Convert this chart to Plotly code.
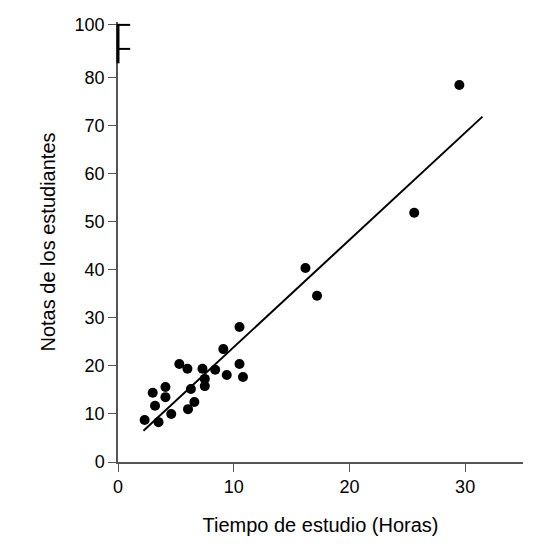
import numpy as np
import plotly.graph_objects as go

# hours studied vs student grades
horas = [2.3, 3.0, 3.2, 3.5, 4.1, 4.1, 4.6, 5.3, 6.0, 6.05, 6.3, 6.6, 7.3, 7.5, 7.5,
         8.4, 9.1, 9.4, 10.5, 10.5, 10.8, 16.2, 17.2, 25.6, 29.5]
notas = [8.75, 14.4, 11.7, 8.3, 15.6, 13.5, 10.0, 20.4, 19.4, 11.0, 15.2, 12.5, 19.4, 17.3, 15.8,
         19.2, 23.5, 18.1, 28.1, 20.4, 17.7, 40.4, 34.6, 51.9, 78.5]
linea_x = [2.2, 31.5]
linea_y = [6.5, 71.9]

yticks = [0, 10, 20, 30, 40, 50, 60, 70, 80, 91]
ylabels = ['0', '10', '20', '30', '40', '50', '60', '70', '80', '100']

fig = go.Figure()
fig.add_trace(go.Scatter(x=linea_x, y=linea_y, mode='lines',
                         line=dict(color='black', width=2), showlegend=False))
fig.add_trace(go.Scatter(x=horas, y=notas, mode='markers',
                         marker=dict(color='black', size=10), showlegend=False))

# broken-axis marks at the top of the y axis
fig.add_shape(type='line', xref='paper', yref='y', x0=0, x1=0, y0=83, y1=91.2,
              line=dict(color='black', width=3))
fig.add_shape(type='line', xref='paper', yref='y', x0=0, x1=0.03, y0=91, y1=91,
              line=dict(color='black', width=2))
fig.add_shape(type='line', xref='paper', yref='y', x0=0, x1=0.03, y0=86, y1=86,
              line=dict(color='black', width=2))

font = dict(family='Liberation Sans, Arial, sans-serif', size=18, color='black')
fig.update_layout(
    width=536, height=545,
    margin=dict(l=110, r=21, t=14, b=91, autoexpand=False),
    plot_bgcolor='white', paper_bgcolor='white',
    font=font,
    xaxis=dict(range=[0, 35], tickvals=[0, 10, 20, 30], ticks='outside', ticklen=8,
               tickcolor='#555', showline=True, linecolor='#555', linewidth=1.5,
               showgrid=False, zeroline=False, automargin=False,
               title=dict(text='Tiempo de estudio (Horas)', font=dict(size=20), standoff=22)),
    yaxis=dict(range=[0, 91.6], tickvals=yticks, ticktext=ylabels, ticks='outside', ticklen=8,
               tickcolor='#555', showline=True, linecolor='#555', linewidth=1.5,
               showgrid=False, zeroline=False, automargin=False,
               title=dict(text='Notas de los estudiantes', font=dict(size=20), standoff=14)),
)
fig.write_html("out.html")
